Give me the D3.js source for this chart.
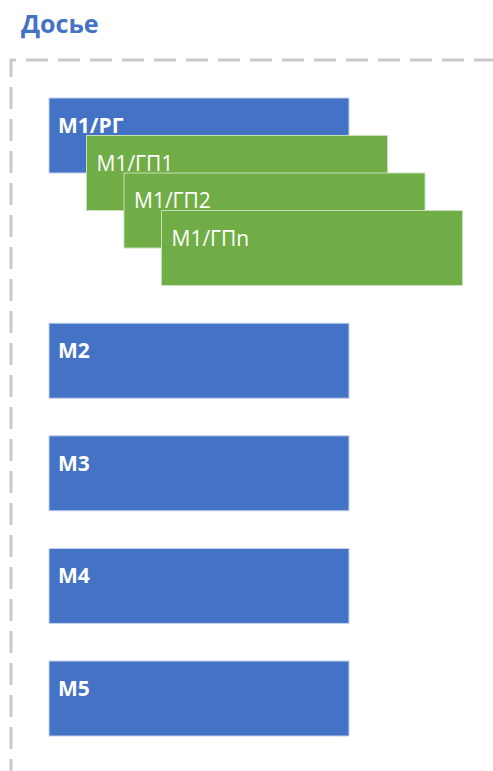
<!DOCTYPE html>
<html>
<head>
<meta charset="utf-8">
<script src="https://cdn.jsdelivr.net/npm/d3@7"></script>
<style>
  body { margin: 0; background: #fff; }
</style>
</head>
<body>
<script>
// title of the diagram
var title = "Досье";

// main (blue) boxes and the row slot each one sits in
var mainLabels = ["M1/РГ", "M2", "M3", "M4", "M5"];
var mainSlots = [0, 2, 3, 4, 5];

// green boxes stacked under M1, by cascade level
var subLabels = ["M1/ГП1", "M1/ГП2", "M1/ГПn"];
var subLevels = [1, 2, 3];

var W = 493, H = 771;

var svg = d3.select("body").append("svg")
    .attr("width", W)
    .attr("height", H);

// scales for the rows and for the cascade offset
var y = d3.scaleLinear().domain([0, 5]).range([98, 661]);
var cascade = d3.scaleLinear().domain([0, 3]).range([0, 112.5]);

var boxW = 300, boxH = 75;
var x0 = 49;

// dashed frame (only the top and left edges are visible)
svg.append("path")
    .attr("d", "M11," + (H + 10) + "V60H" + (W + 10))
    .attr("fill", "none")
    .attr("stroke", "#c9c9c9")
    .attr("stroke-width", 3)
    .attr("stroke-dasharray", "22,10");

// title
svg.append("text")
    .text(title)
    .attr("x", 21)
    .attr("y", 33)
    .style("font-family", "'Open Sans', sans-serif")
    .style("font-weight", "bold")
    .style("font-size", "25px")
    .style("fill", "#4472c4");

// blue boxes
var mains = svg.selectAll("g.main")
    .data(mainLabels)
    .enter()
    .append("g")
    .attr("class", "main")
    .attr("transform", function(d, i) {
        return "translate(" + x0 + "," + y(mainSlots[i]) + ")";
    });

mains.append("rect")
    .attr("width", boxW)
    .attr("height", boxH)
    .style("fill", "#4472c4")
    .style("stroke", "#c5d1ec")
    .style("stroke-width", 1);

mains.append("text")
    .text(function(d) { return d; })
    .attr("x", 9)
    .attr("y", 35)
    .style("font-family", "'Open Sans', sans-serif")
    .style("font-weight", "bold")
    .style("font-size", "21px")
    .style("fill", "#fff");

// green cascade boxes
var subs = svg.selectAll("g.sub")
    .data(subLabels)
    .enter()
    .append("g")
    .attr("class", "sub")
    .attr("transform", function(d, i) {
        return "translate(" + (x0 + cascade(subLevels[i])) + "," + (y(0) + cascade(subLevels[i])) + ")";
    });

subs.append("rect")
    .attr("width", boxW + 1)
    .attr("height", boxH)
    .style("fill", "#70ad47")
    .style("stroke", "#c6dfb6")
    .style("stroke-width", 1);

subs.append("text")
    .text(function(d) { return d; })
    .attr("x", 10)
    .attr("y", 35)
    .style("font-family", "'Open Sans', sans-serif")
    .style("font-size", "21px")
    .style("fill", "#fff");
</script>
</body>
</html>
